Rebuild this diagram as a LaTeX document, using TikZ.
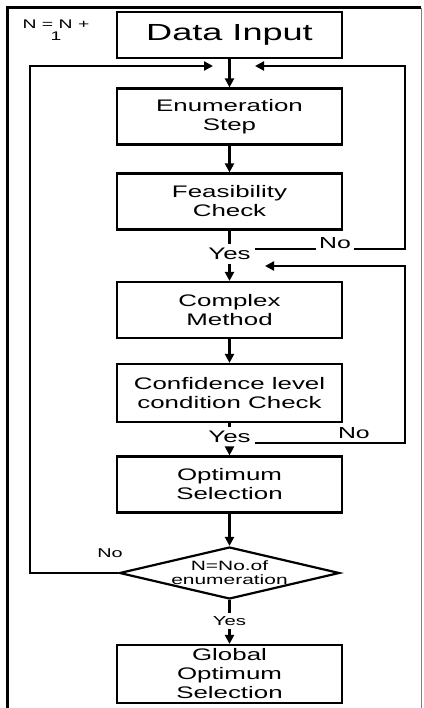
\documentclass[tikz,border=0pt]{standalone}
\usepackage{fontspec}
\setmainfont{Liberation Sans}[FakeStretch=1.55]
\usepackage{tikz}
\usetikzlibrary{arrows.meta, shapes.geometric, positioning}

\begin{document}
\begin{tikzpicture}[
            x = 1pt, y = 1pt,
            > = {Stealth[inset=0pt, length=9pt, width=9pt]},
            line width = 2.2pt,
            on grid,
            block/.style = {draw, rectangle, minimum width=225pt, minimum height=56pt,
                align=center, inner sep=1pt, font=\fontsize{16.7}{19}\selectfont},
            decision/.style = {draw, diamond, aspect=4.2, minimum width=220pt,
                minimum height=52pt, inner sep=0pt, align=center,
                font=\fontsize{13.5}{14}\selectfont},
            tag/.style = {inner sep=3pt, align=center, font=\fontsize{16.7}{19}\selectfont},
            smalltag/.style = {inner sep=2pt, align=center, font=\fontsize{12.8}{11}\selectfont}
        ]
        \useasboundingbox (0,0) rectangle (423,-708);

        % frame
        \draw[line width=3pt] (7,-708) -- (7,-8) -- (421,-8);
        \draw[gray, line width=0.6pt] (421,-8) -- (421,-708);

        % main chain
        \node[block, minimum height=46pt, font=\fontsize{23.3}{26}\selectfont] (data) at (229.5,-35) {Data Input};
        \node[block, below=81.5pt of data] (enum) {Enumeration\\Step};
        \node[block, below=85pt of enum] (feas) {Feasibility\\Check};
        \node[tag, below=52.5pt of feas] (yes1) {Yes};
        \node[block, below=108.5pt of feas] (cplx) {Complex\\Method};
        \node[block, minimum height=58pt, below=83pt of cplx] (conf) {Confidence level\\condition Check};
        \node[tag, below=44pt of conf] (yes2) {Yes};
        \node[block, below=91.5pt of conf] (opt) {Optimum\\Selection};
        \node[decision, below=88.5pt of opt] (diam) {N=No.of\\enumeration};
        \node[smalltag, font=\fontsize{13.1}{14}\selectfont, below=48pt of diam] (yes3) {Yes};
        \node[block, minimum height=58pt, inner ysep=0pt, below=101pt of diam] (glob) {Global\\Optimum\\Selection};

        % labels
        \node[tag, anchor=base, inner sep=2pt, font=\fontsize{16}{19}\selectfont] (no1) at (335,-249) {No};
        \node[smalltag] (no3) at (110,-553) {No};
        \node[smalltag, font=\fontsize{12.5}{12.5}\selectfont] (incr) at (56,-30) {N = N +\\1};

        % loop corners
        \coordinate (ltop) at (30,-66);
        \coordinate (inL) at (213,-66);
        \coordinate (rtop) at (405,-66);
        \coordinate (inR) at (255,-66);
        \coordinate (rmid) at (405,-266);
        \coordinate (inR2) at (265,-266);

        \draw[->] (data) -- (enum);
        \draw[->] (enum) -- (feas);
        \draw (feas) -- (yes1);
        \draw[->] (yes1) -- (cplx);
        \draw[->] (cplx) -- (conf);
        \draw (conf) -- (yes2);
        \draw[->] (yes2) -- (opt);
        \draw[->] (opt) -- (diam);
        \draw (diam) -- (yes3);
        \draw[->] (yes3) -- (glob);

        \draw (yes1.east |- no1.base) -- (no1.base west);
        \draw[->] (no1.base east) -| (rtop) -- (inR);
        \draw[->] (yes2.base east) -| node[tag, pos=0.33, above, font=\fontsize{16}{19}\selectfont] (no2) {No} (rmid) -- (inR2);
        \draw[->] (diam) -| (ltop) -- (inL);
    \end{tikzpicture}
\end{document}
